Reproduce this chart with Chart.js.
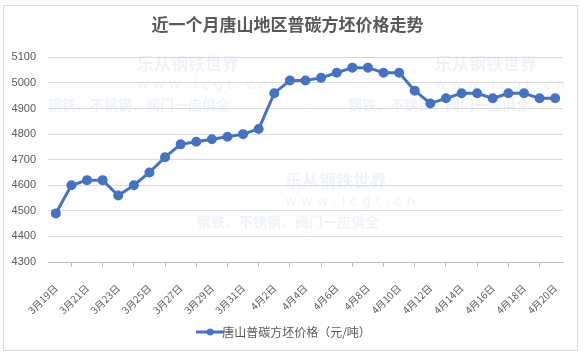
<!DOCTYPE html>
<html>
<head>
<meta charset="utf-8">
<script src="https://cdn.jsdelivr.net/npm/chart.js@4/dist/chart.umd.min.js"></script>
<style>
  html, body { margin: 0; padding: 0; background: #fff; }
  #wrap { position: relative; width: 587px; height: 356px; }
</style>
</head>
<body>
<div id="wrap"><canvas id="chart"></canvas></div>
<script>
// 日期（3月19日 - 4月20日）
var dates = [
	'3月19日','3月20日','3月21日','3月22日','3月23日','3月24日','3月25日','3月26日',
	'3月27日','3月28日','3月29日','3月30日','3月31日','4月1日','4月2日','4月3日',
	'4月4日','4月5日','4月6日','4月7日','4月8日','4月9日','4月10日','4月11日',
	'4月12日','4月13日','4月14日','4月15日','4月16日','4月17日','4月18日','4月19日','4月20日'
];
// 唐山普碳方坯价格（元/吨）
var prices = [
	4490, 4600, 4620, 4620, 4560, 4600, 4650, 4710,
	4760, 4770, 4780, 4790, 4800, 4820, 4960, 5010,
	5010, 5020, 5040, 5060, 5060, 5040, 5040, 4970,
	4920, 4940, 4960, 4960, 4940, 4960, 4960, 4940, 4940
];
var yTicks = [4300, 4400, 4500, 4600, 4700, 4800, 4900, 5000, 5100];

var blue = '#4472C4',
	gray = '#595959';

// 凡例のマーカー（線＋点）
var marker = document.createElement('canvas');
marker.width = 28;
marker.height = 8;
(function() {
	var c = marker.getContext('2d');
	c.strokeStyle = blue;
	c.lineWidth = 3;
	c.beginPath();
	c.moveTo(0, 4);
	c.lineTo(28, 4);
	c.stroke();
	c.fillStyle = blue;
	c.beginPath();
	c.arc(14, 4, 3.5, 0, Math.PI * 2);
	c.fill();
})();

// 枠線と透かし
var decor = {
	id: 'decor',
	beforeDraw: function(chart) {
		var c = chart.ctx;
		c.save();
		c.fillStyle = '#eef3f9';
		c.textBaseline = 'middle';
		var marks = [[137, 64, 48], [285, 181, 197], [435, 64, 348]];
		marks.forEach(function(m) {
			c.font = 'bold 17px "Noto Sans CJK SC"';
			c.textAlign = 'left';
			c.fillText('乐从钢铁世界', m[0], m[1]);
			c.font = '14px "DejaVu Sans"';
			c.fillText('w w w . l c g t . c n', m[0], m[1] + 21);
			c.font = 'bold 14px "Noto Sans CJK SC"';
			c.fillText('钢铁、不锈钢、阀门一应俱全', m[2], m[1] + 41);
		});
		c.restore();
	},
	afterDraw: function(chart) {
		var c = chart.ctx;
		c.save();
		c.strokeStyle = '#d9d9d9';
		c.lineWidth = 1;
		c.strokeRect(3.5, 5.5, 574, 345);
		c.restore();
	}
};

var ctx = document.getElementById('chart');
var chart = new Chart(ctx, {
	type: 'line',
	data: {
		labels: dates,
		datasets: [{
			label: '唐山普碳方坯价格（元/吨）',
			data: prices,
			borderColor: blue,
			backgroundColor: blue,
			borderWidth: 3,
			pointRadius: 3.5,
			pointBackgroundColor: blue,
			pointBorderColor: blue,
			tension: 0
		}]
	},
	options: {
		responsive: true,
		maintainAspectRatio: false,
		animation: false,
		layout: { padding: { left: 12, right: 24, top: 8, bottom: 8 } },
		plugins: {
			title: {
				display: true,
				text: '近一个月唐山地区普碳方坯价格走势',
				color: gray,
				font: { family: '"Noto Sans CJK SC"', size: 17, weight: 'bold' },
				padding: { top: 6, bottom: 23 }
			},
			legend: {
				position: 'bottom',
				labels: {
					color: gray,
					font: { family: '"Noto Sans CJK SC"', size: 12 },
					usePointStyle: true,
					pointStyle: marker,
					padding: 8
				}
			},
			tooltip: { enabled: false }
		},
		scales: {
			x: {
				offset: true,
				afterFit: function(axis) {
					axis.height = 56;
				},
				grid: {
					offset: true,
					drawOnChartArea: false,
					drawTicks: true,
					tickLength: 5,
					color: '#bfbfbf'
				},
				border: { color: '#bfbfbf' },
				ticks: {
					autoSkip: false,
					maxRotation: 45,
					minRotation: 45,
					color: gray,
					font: { family: '"Noto Sans CJK SC"', size: 10 },
					padding: 15,
					callback: function(v, i) {
						return i % 2 === 0 ? dates[i] : null;
					}
				}
			},
			y: {
				min: yTicks[0],
				max: yTicks[yTicks.length - 1],
				afterBuildTicks: function(axis) {
					axis.ticks = yTicks.map(function(v) { return { value: v }; });
				},
				afterFit: function(axis) {
					axis.width = 36;
				},
				grid: { color: '#d9d9d9', drawTicks: false },
				border: { display: false },
				ticks: {
					color: gray,
					font: { family: 'Arial, "Liberation Sans"', size: 11 },
					padding: 12,
					callback: function(v) { return String(v); }
				}
			}
		}
	},
	plugins: [decor]
});
</script>
</body>
</html>
